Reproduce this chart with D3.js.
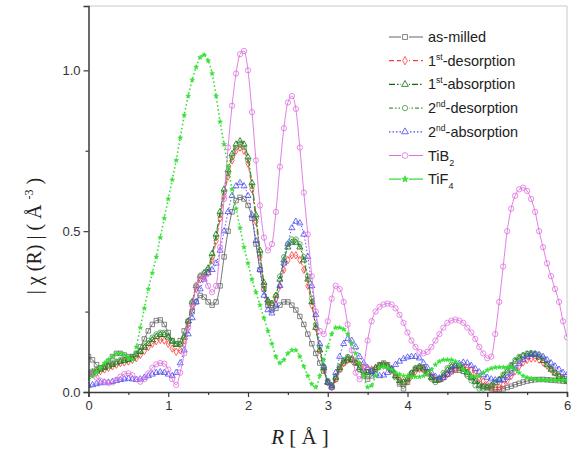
<!DOCTYPE html>
<html>
<head>
<meta charset="utf-8">
<script src="https://cdn.jsdelivr.net/npm/d3@7/dist/d3.min.js"></script>
<style>
  html, body { margin: 0; padding: 0; background: #fff; }
  svg { display: block; }
</style>
</head>
<body>
<svg id="chart" width="574" height="449"></svg>
<script>
// R grid (Å), sampled every 0.05 Å from 0 to 6
const rStep = 0.05;
const rGrid = d3.range(0, 121).map(i => +(i * rStep).toFixed(2));

// |χ(R)| magnitudes (Å^-3), one value per grid point
const asMilled = [
  0.11,0.10,0.085,0.075,0.08,0.095,0.11,0.12,0.12,0.115,
  0.11,0.11,0.12,0.14,0.165,0.19,0.21,0.222,0.224,0.21,
  0.185,0.16,0.15,0.16,0.19,0.22,0.25,0.28,0.30,0.295,
  0.28,0.27,0.28,0.33,0.42,0.50,0.56,0.595,0.605,0.60,
  0.58,0.54,0.46,0.38,0.32,0.27,0.255,0.26,0.27,0.28,
  0.28,0.27,0.255,0.235,0.21,0.18,0.15,0.12,0.09,0.065,
  0.03,0.015,0.04,0.07,0.09,0.10,0.10,0.09,0.07,0.05,
  0.04,0.05,0.07,0.085,0.09,0.085,0.07,0.05,0.025,0.01,
  0.03,0.055,0.07,0.075,0.07,0.058,0.045,0.038,0.038,0.045,
  0.055,0.063,0.068,0.068,0.064,0.056,0.045,0.035,0.025,0.018,
  0.013,0.01,0.008,0.008,0.01,0.014,0.018,0.023,0.027,0.031,
  0.034,0.036,0.038,0.039,0.039,0.038,0.037,0.036,0.035,0.034,
  0.033
];
const desorption1 = [
  0.05,0.055,0.06,0.065,0.07,0.075,0.08,0.085,0.09,0.092,
  0.095,0.1,0.105,0.115,0.128,0.14,0.15,0.158,0.162,0.16,
  0.15,0.135,0.125,0.13,0.16,0.21,0.27,0.32,0.35,0.36,
  0.37,0.41,0.47,0.54,0.61,0.67,0.72,0.75,0.76,0.75,
  0.71,0.63,0.53,0.42,0.33,0.28,0.27,0.29,0.33,0.38,
  0.41,0.425,0.425,0.41,0.38,0.33,0.27,0.2,0.13,0.07,
  0.03,0.015,0.04,0.07,0.09,0.1,0.1,0.095,0.085,0.075,
  0.07,0.07,0.075,0.08,0.082,0.08,0.07,0.055,0.04,0.03,
  0.035,0.05,0.065,0.072,0.07,0.06,0.048,0.04,0.04,0.045,
  0.055,0.065,0.072,0.076,0.077,0.075,0.068,0.058,0.045,0.033,
  0.022,0.015,0.012,0.015,0.022,0.035,0.05,0.065,0.08,0.092,
  0.1,0.104,0.105,0.1,0.092,0.082,0.07,0.06,0.05,0.042,
  0.036
];
const absorption1 = [
  0.055,0.06,0.065,0.07,0.075,0.08,0.085,0.09,0.095,0.097,
  0.1,0.105,0.115,0.125,0.138,0.15,0.162,0.172,0.178,0.178,
  0.17,0.157,0.147,0.148,0.17,0.22,0.28,0.33,0.36,0.37,
  0.385,0.43,0.49,0.56,0.63,0.69,0.74,0.77,0.78,0.77,
  0.73,0.65,0.55,0.44,0.34,0.285,0.275,0.3,0.35,0.41,
  0.45,0.465,0.465,0.45,0.41,0.35,0.28,0.2,0.13,0.075,
  0.03,0.02,0.045,0.075,0.095,0.105,0.1,0.09,0.075,0.065,
  0.06,0.065,0.075,0.082,0.085,0.08,0.068,0.05,0.035,0.03,
  0.04,0.058,0.072,0.078,0.074,0.062,0.045,0.035,0.038,0.052,
  0.068,0.078,0.082,0.08,0.072,0.06,0.045,0.032,0.02,0.015,
  0.015,0.02,0.028,0.038,0.05,0.065,0.08,0.095,0.105,0.112,
  0.117,0.118,0.115,0.108,0.097,0.084,0.07,0.058,0.048,0.04,
  0.034
];
const desorption2 = [
  0.06,0.065,0.07,0.075,0.08,0.085,0.09,0.095,0.1,0.1,
  0.105,0.11,0.12,0.13,0.145,0.16,0.17,0.18,0.185,0.185,
  0.175,0.16,0.15,0.15,0.17,0.22,0.28,0.33,0.36,0.37,
  0.38,0.42,0.48,0.55,0.62,0.68,0.73,0.76,0.77,0.76,
  0.72,0.64,0.54,0.43,0.33,0.28,0.27,0.3,0.36,0.42,
  0.46,0.475,0.475,0.46,0.42,0.36,0.29,0.21,0.14,0.08,
  0.035,0.02,0.05,0.08,0.1,0.11,0.105,0.09,0.07,0.055,
  0.05,0.06,0.07,0.08,0.085,0.08,0.065,0.045,0.03,0.025,
  0.04,0.06,0.075,0.08,0.075,0.06,0.04,0.03,0.04,0.06,
  0.075,0.085,0.085,0.08,0.065,0.05,0.035,0.02,0.01,0.01,
  0.015,0.02,0.03,0.04,0.055,0.07,0.085,0.1,0.11,0.115,
  0.12,0.122,0.12,0.115,0.105,0.09,0.075,0.06,0.05,0.04,
  0.035
];
const absorption2 = [
  0.02,0.022,0.025,0.028,0.03,0.03,0.032,0.035,0.038,0.04,
  0.042,0.04,0.038,0.04,0.045,0.05,0.055,0.06,0.062,0.06,
  0.055,0.05,0.06,0.09,0.13,0.18,0.23,0.28,0.32,0.35,
  0.37,0.38,0.4,0.44,0.5,0.56,0.61,0.64,0.65,0.64,
  0.61,0.55,0.47,0.38,0.3,0.255,0.245,0.27,0.33,0.4,
  0.46,0.51,0.53,0.525,0.49,0.42,0.33,0.24,0.15,0.08,
  0.03,0.015,0.06,0.11,0.15,0.165,0.16,0.14,0.11,0.09,
  0.075,0.063,0.055,0.05,0.052,0.06,0.072,0.085,0.095,0.103,
  0.108,0.11,0.11,0.105,0.09,0.075,0.06,0.048,0.043,0.045,
  0.055,0.068,0.08,0.088,0.092,0.09,0.082,0.072,0.062,0.053,
  0.045,0.04,0.037,0.036,0.037,0.045,0.058,0.072,0.087,0.1,
  0.11,0.116,0.118,0.116,0.11,0.1,0.09,0.08,0.07,0.06,
  0.053
];
const tiB2 = [
  0.06,0.055,0.045,0.035,0.03,0.028,0.03,0.038,0.048,0.056,
  0.058,0.052,0.04,0.032,0.04,0.058,0.075,0.086,0.09,0.088,
  0.07,0.04,0.022,0.06,0.12,0.2,0.27,0.33,0.36,0.355,
  0.33,0.31,0.33,0.45,0.6,0.76,0.89,0.99,1.05,1.06,
  1.0,0.87,0.72,0.58,0.48,0.44,0.46,0.56,0.7,0.82,
  0.9,0.92,0.88,0.76,0.62,0.49,0.36,0.25,0.19,0.18,
  0.22,0.29,0.33,0.32,0.28,0.21,0.13,0.06,0.04,0.08,
  0.16,0.22,0.25,0.265,0.272,0.275,0.272,0.26,0.24,0.215,
  0.185,0.16,0.14,0.125,0.12,0.125,0.14,0.16,0.18,0.2,
  0.215,0.222,0.225,0.222,0.215,0.2,0.185,0.165,0.14,0.12,
  0.105,0.11,0.18,0.28,0.39,0.5,0.57,0.61,0.63,0.635,
  0.625,0.6,0.56,0.5,0.45,0.4,0.36,0.32,0.28,0.22,
  0.17
];
const tiF4 = [
  0.04,0.05,0.06,0.075,0.09,0.1,0.11,0.12,0.12,0.115,
  0.105,0.1,0.14,0.2,0.26,0.32,0.37,0.42,0.48,0.54,
  0.6,0.66,0.72,0.79,0.86,0.92,0.97,1.01,1.04,1.048,
  1.03,0.99,0.92,0.84,0.77,0.70,0.63,0.57,0.51,0.45,
  0.40,0.35,0.31,0.27,0.23,0.19,0.15,0.11,0.09,0.10,
  0.12,0.13,0.13,0.11,0.08,0.05,0.025,0.015,0.05,0.10,
  0.14,0.18,0.2,0.2,0.195,0.18,0.15,0.12,0.09,0.05,
  0.015,0.02,0.05,0.075,0.08,0.075,0.07,0.06,0.055,0.05,
  0.05,0.047,0.047,0.047,0.05,0.055,0.07,0.085,0.095,0.1,
  0.1,0.1,0.095,0.085,0.07,0.06,0.05,0.047,0.05,0.06,
  0.068,0.073,0.076,0.077,0.077,0.077,0.076,0.07,0.06,0.05,
  0.045,0.042,0.04,0.038,0.037,0.037,0.037,0.037,0.037,0.037,
  0.037
];

// Axis ticks
const xTicks = [0, 1, 2, 3, 4, 5, 6];
const xMinorTicks = [0.5, 1.5, 2.5, 3.5, 4.5, 5.5];
const yTicks = [0.0, 0.5, 1.0];
const yMinorTicks = [0.25, 0.75];

// Series definitions: legend label parts, colour, marker, dash
const series = [
  { key: "am",  values: asMilled,    label: [["as-milled", ""]],                          color: "#666666", symbol: d3.symbolSquare,   size: 20, dash: null,              lw: 0.9, filled: false },
  { key: "d1",  values: desorption1, label: [["1", ""], ["st", "sup"], ["-desorption", ""]], color: "#ff3b3b", symbol: d3.symbolDiamond,  size: 16, dash: "5,3",             lw: 0.9, filled: false },
  { key: "a1",  values: absorption1, label: [["1", ""], ["st", "sup"], ["-absorption", ""]], color: "#0b6b0b", symbol: d3.symbolTriangle, size: 16, dash: "6,2,1.5,2",       lw: 0.9, filled: false },
  { key: "d2",  values: desorption2, label: [["2", ""], ["nd", "sup"], ["-desorption", ""]], color: "#3c9a3c", symbol: d3.symbolCircle,   size: 18, dash: "4,2,1.5,2,1.5,2", lw: 0.9, filled: false },
  { key: "a2",  values: absorption2, label: [["2", ""], ["nd", "sup"], ["-absorption", ""]], color: "#4a4af0", symbol: d3.symbolTriangle, size: 16, dash: "1.5,2",           lw: 0.9, filled: false },
  { key: "tb",  values: tiB2,        label: [["TiB", ""], ["2", "sub"]],                   color: "#e070e0", symbol: d3.symbolCircle,   size: 22, dash: null,              lw: 0.9, filled: false },
  { key: "tf",  values: tiF4,        label: [["TiF", ""], ["4", "sub"]],                   color: "#33e033", symbol: d3.symbolStar,     size: 7,  dash: null,              lw: 1.6, filled: true  }
];

const svg = d3.select("#chart");
const plot = { left: 88.5, right: 567, top: 6, bottom: 392 };

const x = d3.scaleLinear().domain([0, 6]).range([plot.left, plot.right]);
const y = d3.scaleLinear().domain([0, 1.2]).range([plot.bottom, plot.top]);

svg.append("rect").attr("width", 574).attr("height", 449).attr("fill", "#fff");

svg.append("clipPath").attr("id", "clip")
  .append("rect")
  .attr("x", plot.left).attr("y", plot.top - 2)
  .attr("width", plot.right - plot.left).attr("height", plot.bottom - plot.top + 4);

// Frame: light top/right edges
svg.append("line").attr("x1", plot.left).attr("x2", plot.right).attr("y1", plot.top).attr("y2", plot.top)
  .attr("stroke", "#c8c8c8").attr("stroke-width", 1);
svg.append("line").attr("x1", plot.right).attr("x2", plot.right).attr("y1", plot.top).attr("y2", plot.bottom)
  .attr("stroke", "#c8c8c8").attr("stroke-width", 1);

// Curves
const line = d3.line()
  .x((d, i) => x(rGrid[i]))
  .y(d => y(d))
  .curve(d3.curveMonotoneX);

const curves = svg.append("g").attr("clip-path", "url(#clip)");

series.forEach(s => {
  const g = curves.append("g").attr("class", "series-" + s.key);
  g.append("path")
    .datum(s.values)
    .attr("d", line)
    .attr("fill", "none")
    .attr("stroke", s.color)
    .attr("stroke-width", s.lw)
    .attr("stroke-dasharray", s.filled ? "1.5,2.5" : s.dash);
  const sym = d3.symbol().type(s.symbol).size(s.size);
  g.selectAll("path.m")
    .data(s.values)
    .join("path")
    .attr("class", "m")
    .attr("d", sym)
    .attr("transform", (d, i) => `translate(${x(rGrid[i])},${y(d)})`)
    .attr("fill", s.filled ? s.color : "none")
    .attr("stroke", s.color)
    .attr("stroke-width", s.filled ? 0.6 : 0.8);
});

// Axes
const axisColor = "#3a3a3a";
const xAxis = d3.axisBottom(x).tickValues(xTicks).tickSize(5).tickPadding(4).tickFormat(d3.format("d"));
const gx = svg.append("g").attr("transform", `translate(0,${plot.bottom})`).call(xAxis);
gx.select(".domain").attr("stroke", axisColor).attr("stroke-width", 1.5);
gx.selectAll(".tick line").attr("stroke", axisColor).attr("stroke-width", 1.2);
gx.selectAll(".tick text").attr("fill", "#333").attr("font-family", "Liberation Sans, Arial, sans-serif").attr("font-size", 13);
svg.append("g").attr("transform", `translate(0,${plot.bottom})`)
  .call(d3.axisBottom(x).tickValues(xMinorTicks).tickSize(3).tickFormat(""))
  .call(g => g.select(".domain").remove())
  .selectAll(".tick line").attr("stroke", axisColor).attr("stroke-width", 1.2);

const yAxis = d3.axisLeft(y).tickValues(yTicks).tickSize(5).tickPadding(3).tickFormat(d3.format(".1f"));
const gy = svg.append("g").attr("transform", `translate(${plot.left},0)`).call(yAxis);
gy.select(".domain").attr("stroke", axisColor).attr("stroke-width", 1.5);
gy.selectAll(".tick line").attr("stroke", axisColor).attr("stroke-width", 1.2);
gy.selectAll(".tick text").attr("fill", "#333").attr("font-family", "Liberation Sans, Arial, sans-serif").attr("font-size", 13);
svg.append("g").attr("transform", `translate(${plot.left},0)`)
  .call(d3.axisLeft(y).tickValues(yMinorTicks).tickSize(3).tickFormat(""))
  .call(g => g.select(".domain").remove())
  .selectAll(".tick line").attr("stroke", axisColor).attr("stroke-width", 1.2);

// Axis titles
const xt = svg.append("text")
  .attr("x", 300).attr("y", 444)
  .attr("text-anchor", "middle")
  .attr("font-family", "Liberation Serif, Times New Roman, serif")
  .attr("font-size", 21)
  .attr("fill", "#222");
xt.append("tspan").attr("font-style", "italic").text("R");
xt.append("tspan").text(" [ Å  ]");

const yt = svg.append("text")
  .attr("transform", "translate(41,236) rotate(-90)")
  .attr("text-anchor", "middle")
  .attr("font-family", "Liberation Serif, Times New Roman, serif")
  .attr("font-size", 20)
  .attr("fill", "#222");
yt.append("tspan").text("| χ (R) | ( Å ");
yt.append("tspan").attr("font-size", 12).attr("dy", -8).text("-3");
yt.append("tspan").attr("dy", 8).text(" )");

// Legend
const legend = svg.append("g").attr("class", "legend");
const rowY0 = 37, rowGap = 23.7;
series.forEach((s, i) => {
  const cy = rowY0 + i * rowGap;
  const row = legend.append("g");
  row.append("line")
    .attr("x1", 389).attr("x2", 423).attr("y1", cy).attr("y2", cy)
    .attr("stroke", s.color).attr("stroke-width", 1.2)
    .attr("stroke-dasharray", s.dash);
  row.append("rect").attr("x", 401).attr("y", cy - 4).attr("width", 8).attr("height", 8).attr("fill", "#fff");
  row.append("path")
    .attr("d", d3.symbol().type(s.symbol).size(s.filled ? s.size + 6 : s.size + 4))
    .attr("transform", `translate(405,${cy})`)
    .attr("fill", s.filled ? s.color : "none")
    .attr("stroke", s.color).attr("stroke-width", 0.8);
  const t = row.append("text")
    .attr("x", 428).attr("y", cy + 5)
    .attr("font-family", "Liberation Sans, Arial, sans-serif")
    .attr("font-size", 14.5)
    .attr("fill", "#222");
  s.label.forEach(([txt, kind], j) => {
    const sp = t.append("tspan").text(txt);
    if (kind === "sup") sp.attr("font-size", 8.5).attr("dy", -6);
    if (kind === "sub") sp.attr("font-size", 9).attr("dy", 5);
    if (kind === "" && j > 0 && s.label[j - 1][1] === "sup") sp.attr("dy", 6);
  });
});
</script>
</body>
</html>
